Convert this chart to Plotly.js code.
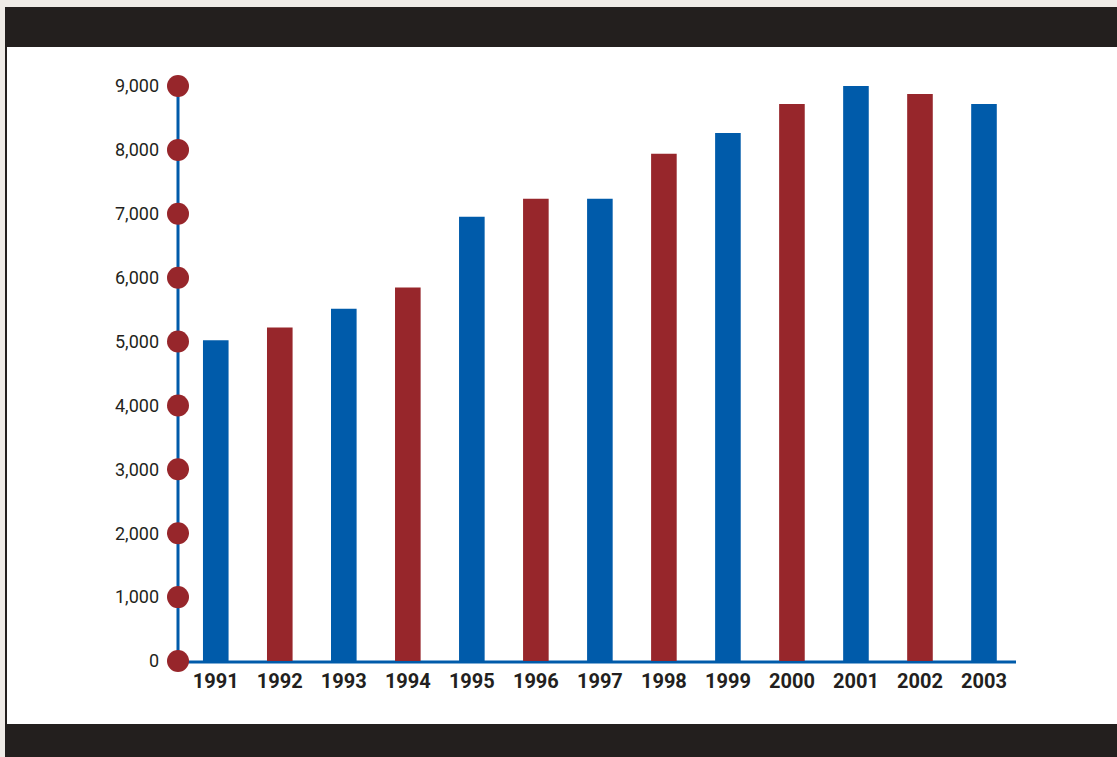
<!DOCTYPE html>
<html>
<head>
<meta charset="utf-8">
<script src="https://cdn.plot.ly/plotly-3.0.1.min.js"></script>
<style>
  html, body { margin: 0; padding: 0; background: #efebe7; }
  #chart { width: 1117px; height: 757px; }
</style>
</head>
<body>
<div id="chart"></div>
<script>
// ---- data ----
const years = ["1991","1992","1993","1994","1995","1996","1997","1998","1999","2000","2001","2002","2003"];
const values = [5020, 5220, 5515, 5845, 6955, 7235, 7235, 7940, 8265, 8720, 9015, 8875, 8720];
const barColors = ["#005baa","#97262b","#005baa","#97262b","#005baa","#97262b","#005baa","#97262b","#005baa","#97262b","#005baa","#97262b","#005baa"];
const yTicks = [0, 1000, 2000, 3000, 4000, 5000, 6000, 7000, 8000, 9000];

// ---- layout geometry (pixels) ----
const W = 1117, H = 757;
const L = 178, R = 1016, T = 86, B = 661;
const px2x = p => (p - L) / (R - L);
const px2y = p => (B - p) / (B - T);

const frame = [
  {x0: 5, x1: W, y0: 7, y1: 47, c: "#231f1e"},
  {x0: 7, x1: W, y0: 47, y1: 724, c: "#ffffff"},
  {x0: 5, x1: 7, y0: 47, y1: 724, c: "#231f1e"},
  {x0: 5, x1: W, y0: 724, y1: H, c: "#231f1e"}
];
const shapes = frame.map(f => ({
  type: "rect", xref: "paper", yref: "paper", layer: "below",
  x0: px2x(f.x0), x1: px2x(f.x1), y0: px2y(f.y1), y1: px2y(f.y0),
  fillcolor: f.c, line: {width: 0}
}));
// vertical axis line through the dot centres
shapes.push({
  type: "line", xref: "paper", yref: "paper", layer: "below",
  x0: 0, x1: 0, y0: 0, y1: 1,
  line: {color: "#005baa", width: 3}
});
// horizontal axis line
shapes.push({
  type: "line", xref: "paper", yref: "paper", layer: "below",
  x0: 0, x1: 1, y0: px2y(662), y1: px2y(662),
  line: {color: "#005baa", width: 3}
});

const bars = {
  type: "bar", x: years, y: values,
  marker: {color: barColors, line: {width: 0}},
  width: 0.4, hoverinfo: "x+y"
};
const dots = {
  type: "scatter", mode: "markers", xaxis: "x2", yaxis: "y",
  x: yTicks.map(() => 0), y: yTicks,
  marker: {color: "#97262b", size: 22},
  cliponaxis: false, hoverinfo: "skip"
};

const layout = {
  width: W, height: H,
  margin: {l: L, r: W - R, t: T, b: H - B, pad: 0},
  paper_bgcolor: "#efebe7",
  plot_bgcolor: "rgba(0,0,0,0)",
  showlegend: false,
  shapes: shapes,
  xaxis: {
    type: "category",
    range: [-0.59, 12.5],
    showgrid: false, zeroline: false, showline: false,
    ticks: "", ticklabelstandoff: 6,
    tickfont: {family: "Roboto, 'Open Sans', sans-serif", size: 20, color: "#231f20", weight: "bold"},
    fixedrange: true
  },
  xaxis2: {
    overlaying: "x", range: [0, 1], visible: false, fixedrange: true
  },
  yaxis: {
    range: [0, 9000],
    tickvals: yTicks,
    tickformat: ",",
    showgrid: false, zeroline: false, showline: false,
    ticks: "", ticklabelstandoff: 18,
    tickfont: {family: "Roboto, 'Open Sans', sans-serif", size: 18, color: "#231f20"},
    fixedrange: true
  }
};

Plotly.newPlot("chart", [bars, dots], layout, {displayModeBar: false, staticPlot: true});
</script>
</body>
</html>
